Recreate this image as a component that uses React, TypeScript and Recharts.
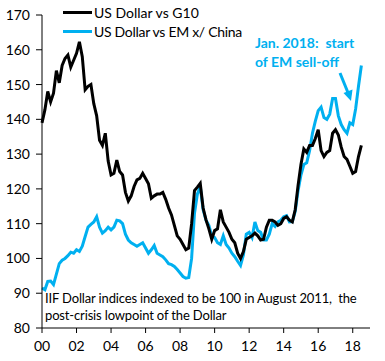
import { LineChart, Line, XAxis, YAxis } from "recharts";

// bi-monthly observations, Jan 2000 .. Jul 2018
const months = Array.from({ length: 112 }, (_, i) => 2000 + i / 6);

const usdG10 = [
  139, 142.7, 148, 145, 147.5, 154, 150.5, 155.5, 157.5, 158.5,
  155, 157, 159, 162.3, 158, 148.5, 149.5, 150, 144.5, 141,
  134, 132.5, 136, 128, 124, 124.5, 128.3, 125, 124, 119,
  116.5, 118, 120.7, 122.6, 123, 124.5, 123, 121.5, 117.3, 118,
  118.5, 118.5, 119, 117, 114.5, 112.5, 109.5, 106.5, 105.5, 104,
  102.5, 103, 110, 119.5, 120.5, 121.6, 114.5, 111.1, 108.5, 105.5,
  108, 108.5, 114, 110.5, 109, 107.5, 105.5, 104.5, 101.5, 100,
  102, 105.5, 106, 106.5, 107.3, 106.5, 105.3, 105.5, 109, 111,
  111, 110.5, 109.5, 110, 111.5, 112, 111, 110.5, 114, 121,
  127, 131.5, 130.5, 132.5, 132.5, 134.5, 137, 131, 129.3, 130.5,
  131, 136, 137, 135.5, 132, 129.3, 128.5, 126.5, 124.5, 125,
  129.3, 132.5,
];

const usdEmXChina = [
  91.5, 91, 93.4, 93.5, 92.5, 95.5, 98.5, 99.5, 100, 100.8,
  101.8, 101.5, 102.5, 102, 103.5, 106.3, 109, 109.8, 110.5, 112,
  109, 107.3, 108, 109, 108.2, 109, 111, 110.8, 110, 107,
  105.3, 104.5, 104, 103.5, 104, 104.5, 103, 101.5, 102.5, 103.7,
  101.5, 101, 100.5, 99.6, 98.5, 98.2, 97.7, 96.8, 95.8, 94.8,
  94.3, 94.5, 100, 113, 118.5, 120.7, 114, 111, 109.5, 106.5,
  106, 104.5, 104, 106.5, 104, 103, 101.5, 100.5, 99.2, 98,
  101, 107, 107.5, 106, 110.5, 108, 107.5, 105.3, 105.3, 107,
  110, 109.2, 110.5, 111, 112, 112.3, 110.5, 110.6, 113.5, 119.5,
  124, 127, 127.5, 131, 136, 139.5, 142.5, 143.5, 140.5, 140,
  141.5, 146, 146, 141, 138.5, 137, 136, 139, 138.5, 143,
  149.5, 155.5,
];

const yearTicks = [2000, 2002, 2004, 2006, 2008, 2010, 2012, 2014, 2016, 2018];
const valueTicks = [80, 90, 100, 110, 120, 130, 140, 150, 160, 170];

const FONT = "Lato, 'Open Sans', sans-serif";
const BLUE = "#00B0F0";

const data = months.map((t, i) => ({
  t,
  g10: usdG10[i],
  em: usdEmXChina[i],
}));

export default function App() {
  return (
    <div style={{ position: "relative", width: 385, height: 361, fontFamily: FONT }}>
      <style>{`body{margin:0}`}</style>
      <LineChart
        width={385}
        height={361}
        data={data}
        margin={{ top: 15, right: 15, bottom: 8, left: 0 }}
      >
        <XAxis
          dataKey="t"
          type="number"
          domain={[2000, 2019]}
          ticks={yearTicks}
          tickFormatter={(v: number) => String(v % 100).padStart(2, "0")}
          axisLine={{ stroke: "#000", strokeWidth: 1 }}
          tickLine={{ stroke: "#000" }}
          tickSize={5}
          tickMargin={8}
          height={25}
          tick={{ fill: "#000", fontSize: 14, fontFamily: FONT }}
        />
        <YAxis
          type="number"
          domain={[80, 170]}
          ticks={valueTicks}
          width={42}
          axisLine={{ stroke: "#000", strokeWidth: 1 }}
          tickLine={{ stroke: "#000" }}
          tickSize={6}
          tickMargin={6}
          tick={{ fill: "#000", fontSize: 14, fontFamily: FONT }}
        />
        <Line
          type="linear"
          dataKey="em"
          stroke={BLUE}
          strokeWidth={3}
          dot={false}
          isAnimationActive={false}
        />
        <Line
          type="linear"
          dataKey="g10"
          stroke="#000"
          strokeWidth={3}
          dot={false}
          isAnimationActive={false}
        />
      </LineChart>

      {/* legend */}
      <div style={{ position: "absolute", left: 63, top: 3, fontSize: 14, lineHeight: "19px", color: "#000", whiteSpace: "nowrap" }}>
        <div style={{ display: "flex", alignItems: "center" }}>
          <span style={{ display: "inline-block", width: 29, height: 3, background: "#000", marginRight: 2 }} />
          US Dollar vs G10
        </div>
        <div style={{ display: "flex", alignItems: "center" }}>
          <span style={{ display: "inline-block", width: 29, height: 3, background: BLUE, marginRight: 2 }} />
          <span style={{ letterSpacing: -0.3 }}>US Dollar vs EM x/ China</span>
        </div>
      </div>

      {/* annotation */}
      <div style={{ position: "absolute", left: 255, top: 33, fontSize: 14, fontWeight: 700, lineHeight: "19px", color: BLUE, whiteSpace: "nowrap" }}>
        <div>Jan. 2018:&nbsp; start</div>
        <div>of EM sell-off</div>
      </div>
      <svg style={{ position: "absolute", left: 0, top: 0 }} width={385} height={361}>
        <line x1={340} y1={73} x2={348.5} y2={94} stroke={BLUE} strokeWidth={3} />
        <polygon points="351,101 343.5,93 352.5,89.5" fill={BLUE} />
      </svg>

      {/* footnote */}
      <div style={{ position: "absolute", left: 45, top: 290, fontSize: 13, lineHeight: "17px", color: "#000", whiteSpace: "nowrap", letterSpacing: -0.15 }}>
        <div>IIF Dollar indices indexed to be 100 in August 2011,&nbsp; the</div>
        <div>post-crisis lowpoint of the Dollar</div>
      </div>
    </div>
  );
}
